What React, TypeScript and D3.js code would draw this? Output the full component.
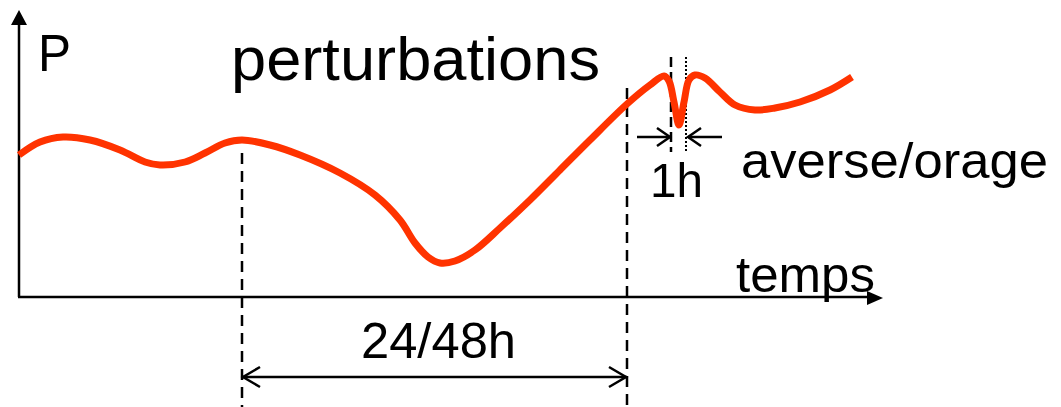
import React from "react";
import * as d3 from "d3";

// time (arbitrary units along axis) and pressure P (arbitrary units)
const times = [0, 21, 44, 71, 101, 126, 141, 166, 186, 206, 223, 251, 281, 321, 356, 381, 396, 409, 421, 436, 456, 481, 511, 541, 571, 608, 631, 645, 650, 655, 660, 665, 670, 676, 686, 701, 716, 736, 756, 781, 811, 833];
const pressure = [142, 155, 160, 157, 147, 135, 132, 135, 144, 154, 157, 152, 142, 124, 102, 77, 54, 40, 34, 36, 47, 69, 97, 127, 157, 193, 212, 221, 216, 195, 172, 195, 217, 222, 219, 205, 192, 187, 189, 195, 207, 220];

const eventTimes = [223, 608]; // 24/48h perturbation bounds
const showerTimes = [652, 667]; // 1h shower bounds
const labels = { y: "P", x: "temps", title: "perturbations", span: "24/48h", shower: "1h", showerLabel: "averse/orage" };

const W = 1061, H = 407;
const x = d3.scaleLinear().domain([0, 864]).range([19, 883]);
const y = d3.scaleLinear().domain([0, 287]).range([297, 10]);

export default function App() {
  const line = d3
    .line<number>()
    .x((_, i) => x(times[i]))
    .y((d) => y(d))
    .curve(d3.curveCatmullRom.alpha(0.5));
  const path = line(pressure) || "";
  const font = "'Liberation Sans', Arial, sans-serif";
  const x0 = x(0), y0 = y(0);
  const xe = x(864), ye = y(287);
  const a1 = x(eventTimes[0]), a2 = x(eventTimes[1]);
  const s1 = x(showerTimes[0]), s2 = x(showerTimes[1]);
  const arrowY = 377;
  const sY = 137;
  const adj = "spacingAndGlyphs";
  return (
    <svg width={W} height={H} style={{ position: "absolute", left: 0, top: 0, background: "#fff" }} fontFamily={font}>
      {/* axes */}
      <line x1={x0} y1={y0} x2={x0} y2={ye + 12} stroke="#000" strokeWidth={2.5} />
      <path d={`M${x0},${ye} L${x0 - 8},${ye + 15} L${x0 + 8},${ye + 15} Z`} fill="#000" />
      <line x1={x0 - 1} y1={y0} x2={xe - 12} y2={y0} stroke="#000" strokeWidth={2.5} />
      <path d={`M${xe},${y0 + 1} L${xe - 16},${y0 - 6} L${xe - 16},${y0 + 8} Z`} fill="#000" />
      {/* dashed verticals */}
      <line x1={a1} y1={153} x2={a1} y2={H} stroke="#000" strokeWidth={2.5} strokeDasharray="11,7" />
      <line x1={a2} y1={88} x2={a2} y2={H} stroke="#000" strokeWidth={2.5} strokeDasharray="11,7" />
      <line x1={s1} y1={57} x2={s1} y2={152} stroke="#000" strokeWidth={2.5} strokeDasharray="10,5" />
      <line x1={s2} y1={57} x2={s2} y2={152} stroke="#000" strokeWidth={2} strokeDasharray="2,2" />
      {/* curve */}
      <path d={path} fill="none" stroke="#ff3300" strokeWidth={7} strokeLinejoin="round" />
      {/* 24/48h arrow */}
      <line x1={a1} y1={arrowY} x2={a2} y2={arrowY} stroke="#000" strokeWidth={2.5} />
      <path d={`M${a1 + 18},${arrowY - 10} L${a1 + 1},${arrowY} L${a1 + 18},${arrowY + 10}`} fill="none" stroke="#000" strokeWidth={2.5} />
      <path d={`M${a2 - 18},${arrowY - 10} L${a2 - 1},${arrowY} L${a2 - 18},${arrowY + 10}`} fill="none" stroke="#000" strokeWidth={2.5} />
      {/* 1h arrows */}
      <line x1={637} y1={sY} x2={s1 - 1} y2={sY} stroke="#000" strokeWidth={2.5} />
      <path d={`M${s1 - 14},${sY - 9} L${s1 - 1},${sY} L${s1 - 14},${sY + 9}`} fill="none" stroke="#000" strokeWidth={2.5} />
      <line x1={722} y1={sY} x2={s2 + 2} y2={sY} stroke="#000" strokeWidth={2.5} />
      <path d={`M${s2 + 15},${sY - 9} L${s2 + 2},${sY} L${s2 + 15},${sY + 9}`} fill="none" stroke="#000" strokeWidth={2.5} />
      {/* texts */}
      <text x={38} y={71} fontSize={52} textLength={33} lengthAdjust={adj}>{labels.y}</text>
      <text x={231} y={80} fontSize={62} textLength={369} lengthAdjust={adj}>{labels.title}</text>
      <text x={736} y={292} fontSize={50} textLength={139} lengthAdjust={adj}>{labels.x}</text>
      <text x={361} y={358} fontSize={50} textLength={155} lengthAdjust={adj}>{labels.span}</text>
      <text x={650} y={197} fontSize={49} textLength={53} lengthAdjust={adj}>{labels.shower}</text>
      <text x={741} y={178} fontSize={50} textLength={307} lengthAdjust={adj}>{labels.showerLabel}</text>
    </svg>
  );
}
